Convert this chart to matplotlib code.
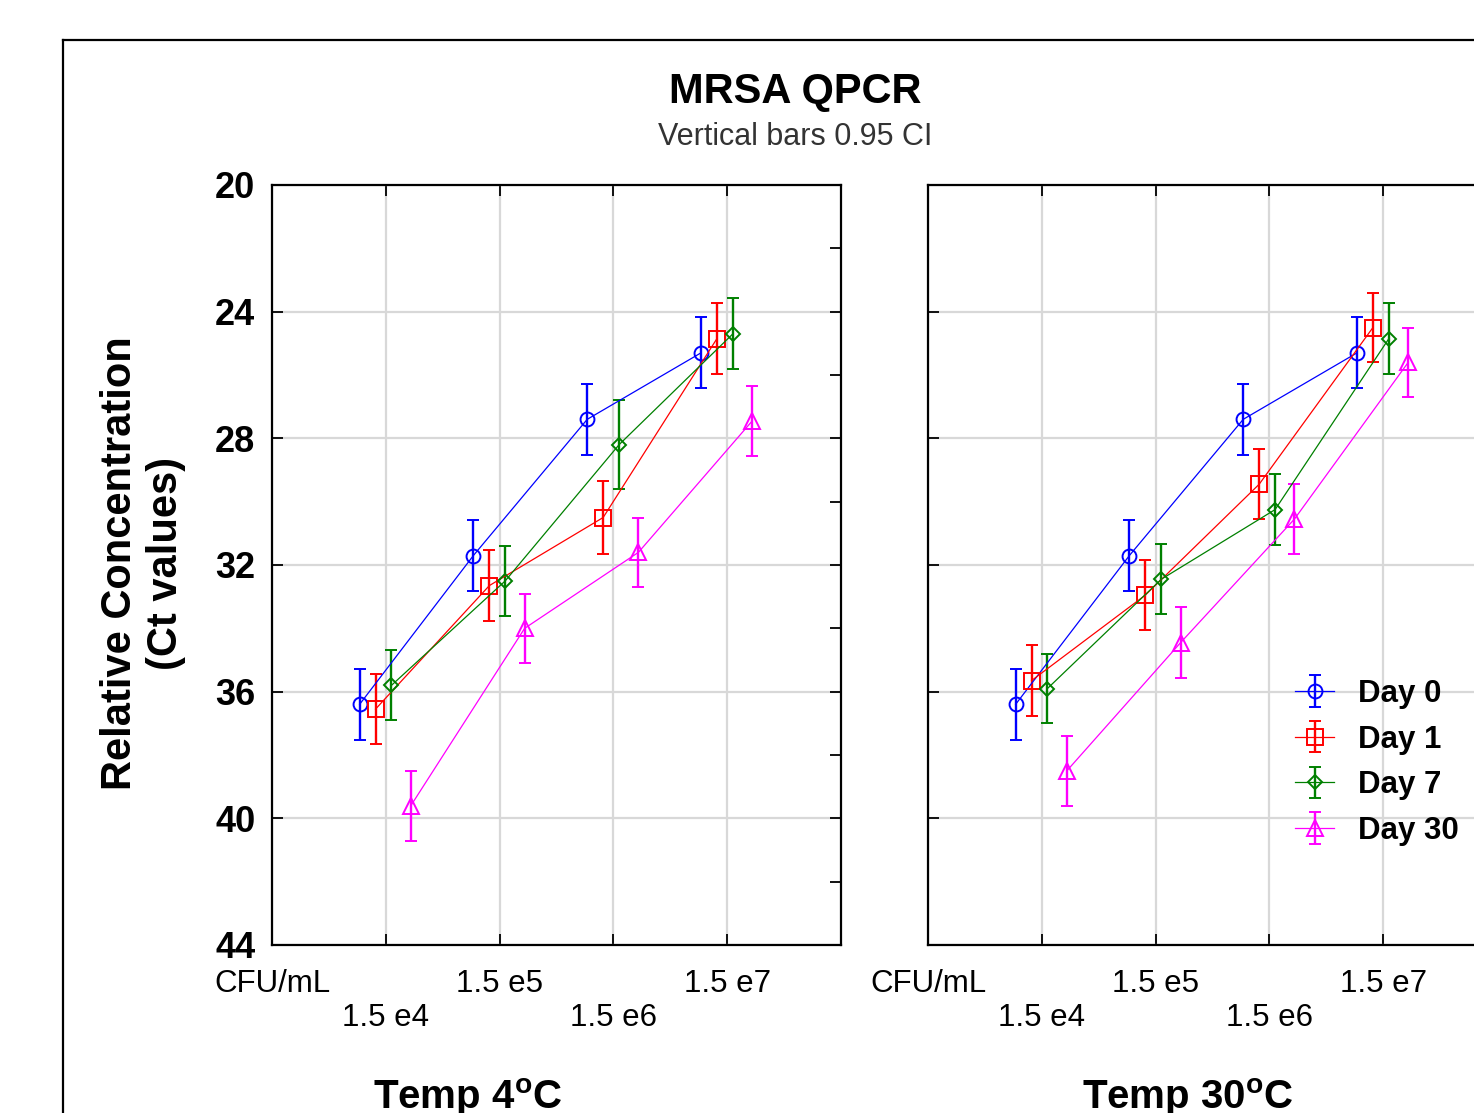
#======== Dependencies ========

import numpy as np
import matplotlib
matplotlib.use('Agg')
import matplotlib.pyplot as plt
from matplotlib.lines import Line2D
from matplotlib.ticker import MultipleLocator

plt.rcParams['font.family'] = ['Liberation Sans', 'DejaVu Sans']
plt.rcParams['mathtext.fontset'] = 'custom'
plt.rcParams['mathtext.rm'] = 'Liberation Sans'
plt.rcParams['mathtext.bf'] = 'Liberation Sans:bold'

#======== Data ========

tick_labels = ['CFU/mL', '1.5 e4', '1.5 e5', '1.5 e6', '1.5 e7']
days = ['Day 0', 'Day 1', 'Day 7', 'Day 30']

# Mean Ct values, Temp 4C
day0_4c = [36.4, 31.7, 27.4, 25.3]
day1_4c = [36.55, 32.65, 30.5, 24.85]
day7_4c = [35.8, 32.5, 28.2, 24.7]
day30_4c = [39.6, 34.0, 31.6, 27.45]

# Mean Ct values, Temp 30C
day0_30c = [36.4, 31.7, 27.4, 25.3]
day1_30c = [35.65, 32.95, 29.45, 24.5]
day7_30c = [35.9, 32.45, 30.25, 24.85]
day30_30c = [38.5, 34.45, 30.55, 25.6]

# 0.95 CI half widths
ci0_4c = [1.12, 1.12, 1.12, 1.12]
ci1_4c = [1.1, 1.13, 1.15, 1.12]
ci7_4c = [1.1, 1.1, 1.4, 1.12]
ci30_4c = [1.1, 1.1, 1.1, 1.1]
ci0_30c = [1.12, 1.12, 1.12, 1.12]
ci1_30c = [1.11, 1.1, 1.1, 1.1]
ci7_30c = [1.1, 1.1, 1.12, 1.13]
ci30_30c = [1.1, 1.12, 1.1, 1.1]

#======== Style ========

colors = ['#0000ff', '#ff0000', '#008000', '#ff00ff']
markers = ['o', 's', 'D', '^']
msizes = [10, 11, 7.5, 11]
dodge = [-0.23, -0.09, 0.05, 0.22]

W, H = 1474, 1113
fig = plt.figure(figsize=(W / 100, H / 100), dpi=100)
fig.patch.set_facecolor('white')


# Axes placed in pixel coords of the reference
def px_axes(x0, y0, x1, y1):
    return fig.add_axes([x0 / W, 1 - y1 / H, (x1 - x0) / W, (y1 - y0) / H])


def draw_panel(ax, series, cis, left_labels=True):
    xs = np.arange(1, 5)
    for i, (vals, ci) in enumerate(zip(series, cis)):
        ax.errorbar(xs + dodge[i], vals, yerr=ci, color=colors[i], marker=markers[i],
                    ms=msizes[i], mfc='none', mew=1.4, lw=0.9, elinewidth=1.7,
                    capsize=4.5, capthick=1.7, label=days[i], zorder=3)

    ax.set_xlim(0, 5)
    ax.set_ylim(44, 20)
    ax.set_xticks(range(5))
    ax.set_xticklabels([lab if k % 2 == 0 else '\n' + lab for k, lab in enumerate(tick_labels)],
                       fontsize=22.5, linespacing=1.2)
    ax.yaxis.set_major_locator(MultipleLocator(4))
    ax.yaxis.set_minor_locator(MultipleLocator(2))
    ax.grid(True, which='major', color='#d8d8d8', lw=1.6)
    ax.set_axisbelow(True)

    ax.tick_params(axis='x', which='major', direction='in', top=True, bottom=True,
                   length=8, width=1.3, pad=17)
    ax.tick_params(axis='y', which='major', direction='in', left=True, right=True,
                   length=8, width=1.3, pad=12, labelsize=26, labelleft=left_labels)
    ax.tick_params(axis='y', which='minor', direction='in', left=False, right=True,
                   length=8, width=1.3)
    if left_labels:
        for t in ax.get_yticklabels():
            t.set_fontweight('bold')
    for s in ax.spines.values():
        s.set_linewidth(1.6)
        s.set_color('black')


ax1 = px_axes(272, 185, 841, 945)
draw_panel(ax1, [day0_4c, day1_4c, day7_4c, day30_4c], [ci0_4c, ci1_4c, ci7_4c, ci30_4c])

ax2 = px_axes(928, 185, 1497, 945)
draw_panel(ax2, [day0_30c, day1_30c, day7_30c, day30_30c], [ci0_30c, ci1_30c, ci7_30c, ci30_30c],
           left_labels=False)

ax2.legend(loc='upper left', bbox_to_anchor=(0.645, 0.35), frameon=False,
           prop={'weight': 'bold', 'size': 22.5}, handlelength=1.25, handletextpad=0.75,
           labelspacing=0.5, borderpad=0, borderaxespad=0)

# Titles
fig.text(795 / W, 1 - 103 / H, 'MRSA QPCR', ha='center', va='baseline',
         fontsize=30, fontweight='bold')
fig.text(795 / W, 1 - 145 / H, 'Vertical bars 0.95 CI', ha='center', va='baseline',
         fontsize=22, color='#333333')

fig.text(143 / W, 1 - 563 / H, 'Relative Concentration\n(Ct values)', ha='center', va='center',
         rotation=90, fontsize=30, fontweight='bold', linespacing=1.2)

fig.text(468 / W, 1 - 1109 / H, r'Temp 4$^{\mathbf{o}}$C', ha='center', va='baseline',
         fontsize=29, fontweight='bold')
fig.text(1188 / W, 1 - 1109 / H, r'Temp 30$^{\mathbf{o}}$C', ha='center', va='baseline',
         fontsize=29, fontweight='bold')

# Outer frame, partly cut off by the image edge
fig.add_artist(Line2D([63 / W, 63 / W], [0, 1 - 40 / H], transform=fig.transFigure,
                      color='black', lw=1.6))
fig.add_artist(Line2D([63 / W, 1], [1 - 40 / H, 1 - 40 / H], transform=fig.transFigure,
                      color='black', lw=1.6))

fig.savefig('out.png', dpi=100)
